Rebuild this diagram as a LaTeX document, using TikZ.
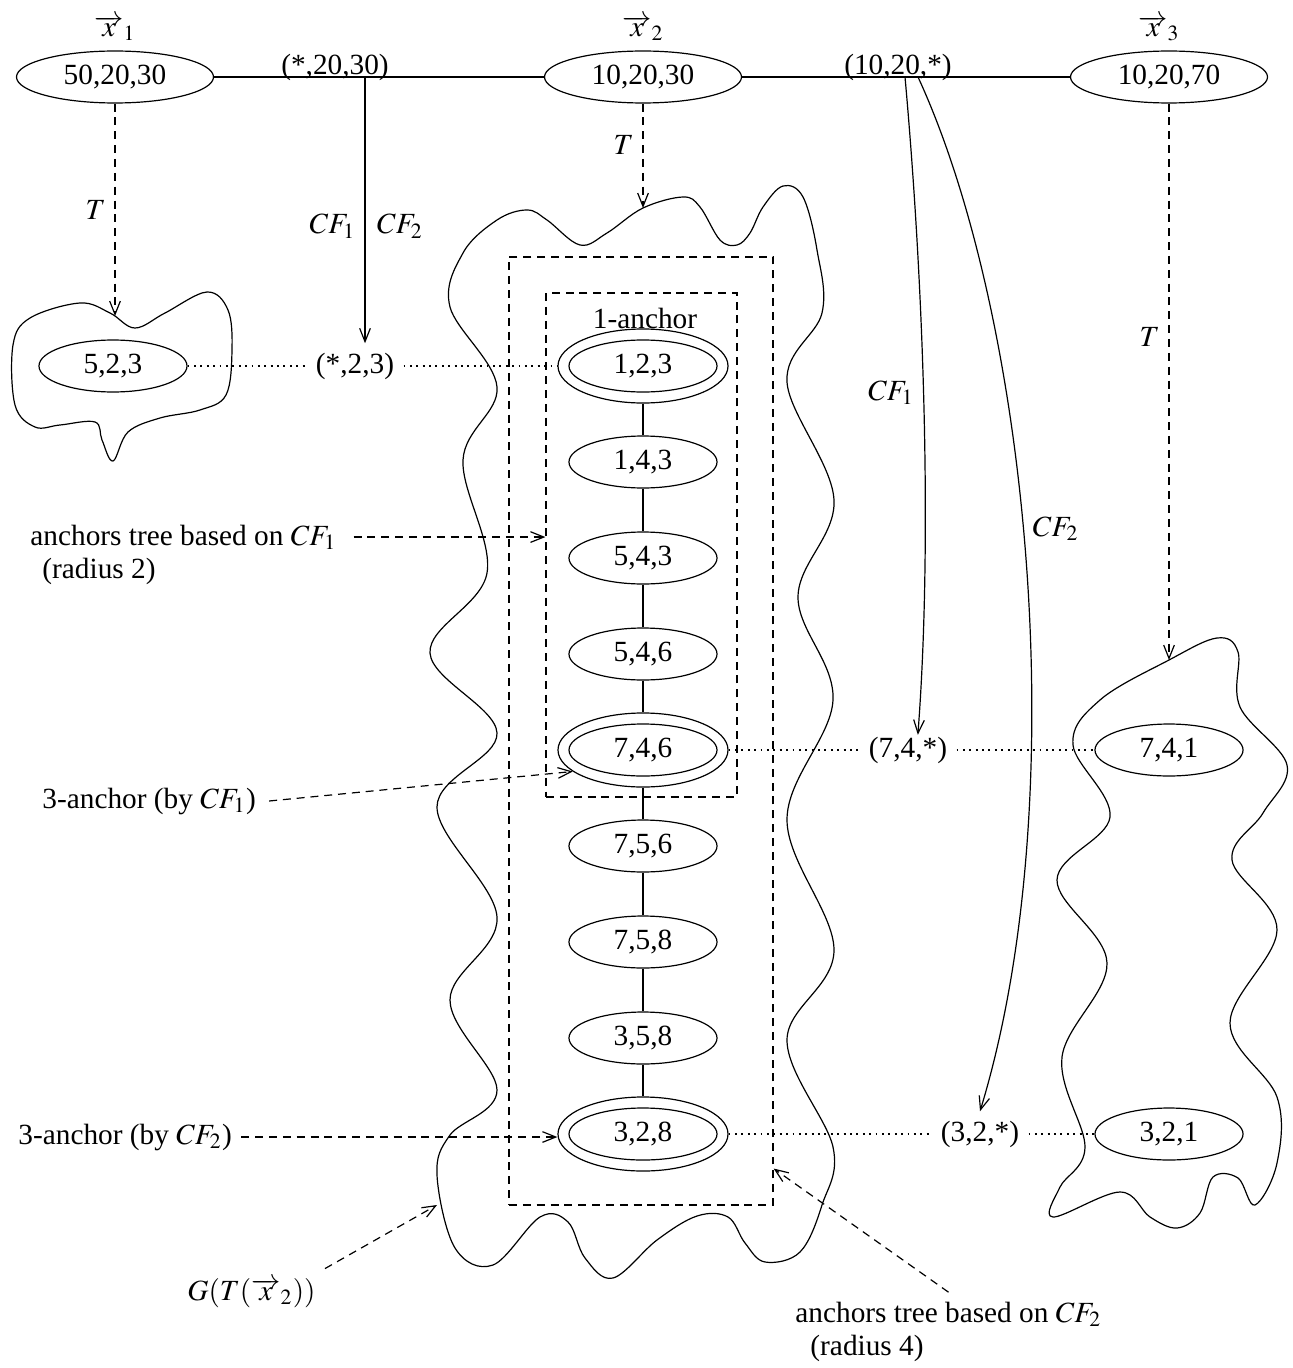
\documentclass[tikz,border=0pt]{standalone}
\usepackage{mathptmx}
\usepackage{fontspec}
\setmainfont{Liberation Serif}
\usetikzlibrary{shapes.geometric,arrows.meta,positioning}
\tikzset{
  elt/.style={ellipse,draw,minimum width=1.954cm,minimum height=0.686cm,inner sep=0pt},
  vec/.style={elt,minimum width=2.6cm},
  anc/.style={elt,minimum width=2.244cm,minimum height=0.977cm},
  dsh/.style={dash pattern=on 3pt off 2.2pt},
  sarr/.style={-{Straight Barb[length=5pt,width=4pt]}},
  darr/.style={dsh,sarr},
  dots/.style={dash pattern=on 0.7pt off 1.7pt,line width=0.6pt},
  box/.style={draw,dsh,inner sep=0pt}
}
\begin{document}
\begin{tikzpicture}[x=0.0132cm,y=-0.0132cm,font=\fontsize{11}{13.2}\selectfont,line width=0.45pt]
        \useasboundingbox (0,0) rectangle (1292,1368);
        \node[vec](v1) at(115,77){50,20,30};
        \node[vec](v2) at(643,77){10,20,30};
        \node[vec](v3) at(1169,77){10,20,70};
        \node[above=0pt of v1]{$\overrightarrow{x}_1$};
        \node[above=0pt of v2]{$\overrightarrow{x}_2$};
        \node[above=0pt of v3, xshift=-0.13cm]{$\overrightarrow{x}_3$};
        \draw(v1)--(v2)--(v3);
        \node[anchor=base](p1) at(335,75){(*,20,30)};
        \node[anchor=base](p2) at(898,75){(10,20,*)};
        \coordinate(c1) at(365,77);
        \coordinate(c2) at(905,77);
        \coordinate(c3) at(918,77);
        \draw plot[smooth cycle,tension=0.6] coordinates{(13,345)(30,318)(80,303)(110,313)(135,328)(165,313)(207,292)(228,310)(232,350)(226,395)(200,410)(160,418)(128,432)(113,461)(102,440)(95,422)(60,425)(35,427)(15,405)};
        \draw plot[smooth cycle,tension=0.6] coordinates{(450,307)(463,253)(497,220)(527,210)(547,220)(580,245)(607,233)(643,208)(683,197)(700,207)(720,240)(737,245)(750,233)(763,207)(783,186)(803,197)(817,250)(822,313)(787,382)(834,500)(798,597)(833,700)(787,820)(834,950)(787,1040)(833,1147)(822,1205)(800,1252)(765,1262)(745,1243)(728,1217)(697,1216)(657,1240)(613,1278)(585,1258)(568,1222)(540,1217)(493,1265)(455,1248)(437,1175)(450,1135)(497,1090)(450,1000)(497,917)(437,807)(497,733)(430,653)(487,573)(463,460)(497,387)};
        \draw plot[smooth cycle,tension=0.6] coordinates{(1169,660)(1217,638)(1238,652)(1240,707)(1287,765)(1263,813)(1232,860)(1277,930)(1230,1023)(1277,1097)(1277,1163)(1255,1205)(1238,1178)(1213,1177)(1200,1213)(1177,1228)(1150,1217)(1120,1192)(1053,1217)(1060,1187)(1085,1147)(1062,1057)(1107,963)(1057,880)(1110,817)(1073,745)(1100,700)};
        \coordinate(b1t) at(113,316);
        \coordinate(bGt) at(641,208);
        \coordinate(b3t) at(1169,660);
        \coordinate(gb) at(437,1205);
        \node[box,minimum width=3.485cm,minimum height=12.514cm](outbox) at(641,731){};
        \node[box,minimum width=2.521cm,minimum height=6.653cm](inbox) at(641.5,545){};
        \node[elt](e523) at(113,366){5,2,3};
        \node(p23s) at(355,366){(*,2,3)};
        \node[anc](a123) at(643,366){1,2,3};
        \node[elt](e143) at(643,462){1,4,3};
        \node[elt](e543) at(643,558){5,4,3};
        \node[elt](e546) at(643,654){5,4,6};
        \node[anc](a746) at(643,750){7,4,6};
        \node[elt](e756) at(643,846){7,5,6};
        \node[elt](e758) at(643,942){7,5,8};
        \node[elt](e358) at(643,1038){3,5,8};
        \node[anc](a328) at(643,1134){3,2,8};
        \node(p74s) at(908,750){(7,4,*)};
        \node[elt](e741) at(1169,750){7,4,1};
        \node(p32s) at(980,1134){(3,2,*)};
        \node[elt](e321) at(1169,1134){3,2,1};
        \node at(645,318){1-anchor};
        \foreach \n in {a123,a746,a328}
          \draw(\n.center) ellipse[x radius=74,y radius=26];
        \foreach \a/\b in {a123/e143,e143/e543,e543/e546,e546/a746,a746/e756,e756/e758,e758/e358,e358/a328}
          \draw(\a)--(\b);
        \draw[dots](e523)--(p23s);
        \draw[dots](p23s)--(a123);
        \draw[dots](a746)--(p74s);
        \draw[dots](p74s)--(e741);
        \draw[dots](a328)--(p32s);
        \draw[dots](p32s)--(e321);
        \draw[darr](v1.south)--(v1.south|-b1t) node[pos=.5,left=0pt]{$T$};
        \draw[darr](v2.south)--(v2.south|-bGt) node[pos=.4,left=0pt]{$T$};
        \draw[darr](v3.south)--(v3.south|-b3t) node[pos=.42,left=0pt]{$T$};
        \draw[sarr](c1)--(c1|-p23s.north) node[pos=.56,left=0pt]{$CF_1$} node[pos=.56,right=1pt]{$CF_2$};
        \draw[sarr](c2) .. controls (925,300) and (932,550) .. ([xshift=0.13cm,yshift=-0.1cm]p74s.north) node[pos=.46,left=0pt]{$CF_1$};
        \draw[sarr](c3) .. controls (1030,320) and (1075,800) .. (p32s.north) node[pos=.465,right=0pt]{$CF_2$};
        \node[anchor=base west](lt1) at(21,545){anchors tree based on $CF_1$};
        \node[anchor=base west] at(33,578){(radius 2)};
        \draw[darr]([xshift=0.1cm]lt1.east)--(lt1.east-|inbox.west);
        \node[anchor=base west](l3a) at(33,808){3-anchor (by $CF_1$)};
        \draw[darr]([xshift=0.05cm]l3a.east)--(a746.197);
        \node[anchor=base west](l3b) at(9,1144){3-anchor (by $CF_2$)};
        \draw[darr](l3b.east)--(l3b.east-|a328.west);
        \node[anchor=base west](gl) at(178,1300){$G(T(\overrightarrow{x}_2))$};
        \draw[darr](gl.north east)--(gb);
        \node[anchor=base west](lt2) at(786,1322){anchors tree based on $CF_2$};
        \node[anchor=base west] at(801,1355){(radius 4)};
        \draw[darr](lt2.north)--([yshift=0.49cm]outbox.south east);
    \end{tikzpicture}
\end{document}
